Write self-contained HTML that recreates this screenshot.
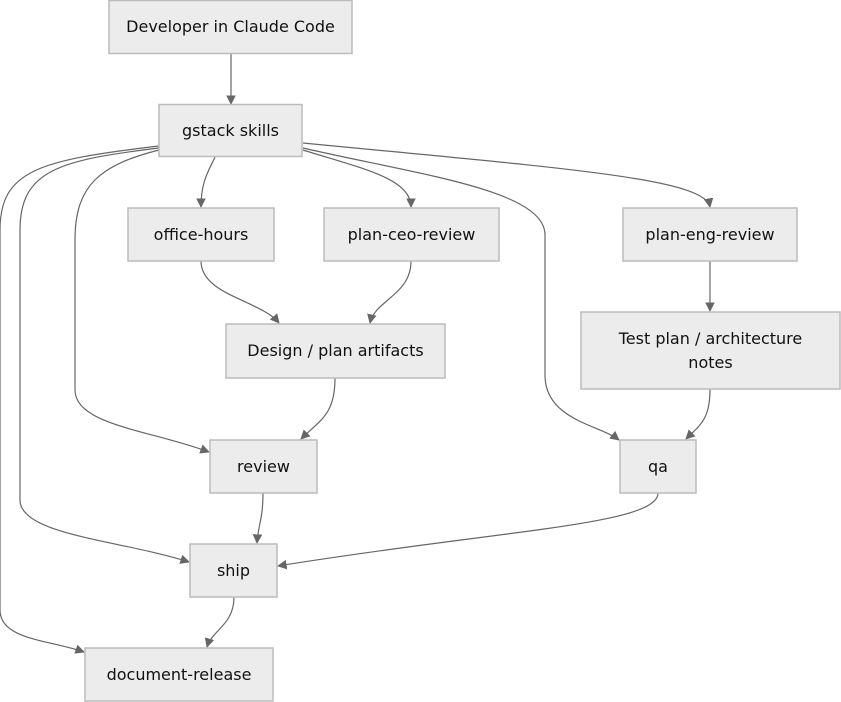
<!DOCTYPE html>
<html><head><meta charset="utf-8"><style>
html,body{margin:0;padding:0;background:#fff;}
svg{display:block;}
text{font-family:"DejaVu Sans","Liberation Sans",sans-serif;font-size:16px;fill:#111;text-anchor:middle;}
rect{fill:#ececec;stroke:#bcbcbc;stroke-width:1.5;}
path{fill:none;stroke:#666;stroke-width:1.2;}
</style></head><body>
<svg width="841" height="702" viewBox="0 0 841 702">
<defs><marker id="a" viewBox="0 0 10 10" refX="9" refY="5" markerWidth="8" markerHeight="8" orient="auto-start-reverse"><path d="M0,0L10,5L0,10z" style="fill:#666;stroke:none"/></marker></defs>
<g>
<path marker-end="url(#a)" d="M231,53 L231,104"/>
<path marker-end="url(#a)" d="M215,157 C208,172 201,182 201,207"/>
<path marker-end="url(#a)" d="M303,150 C360,168 411,178 411,207"/>
<path marker-end="url(#a)" d="M303,143 C560,168 705,178 710,207"/>
<path marker-end="url(#a)" d="M303,148 C420,175 545,190 545,235 L545,375 C545,420 600,425 619,440"/>
<path marker-end="url(#a)" d="M159,150 C100,165 75,185 75,240 L75,390 C75,425 150,430 209,452"/>
<path marker-end="url(#a)" d="M159,148 C60,160 20,170 20,230 L20,500 C20,535 120,540 189,562"/>
<path marker-end="url(#a)" d="M159,146 C40,160 0,170 0,230 L0,610 C0,640 50,640 84,652"/>
<path marker-end="url(#a)" d="M201,261 C201,295 260,300 279,323"/>
<path marker-end="url(#a)" d="M411,261 C411,295 375,300 370,323"/>
<path marker-end="url(#a)" d="M335,378 C335,415 320,420 301,439"/>
<path marker-end="url(#a)" d="M710,261 L710,311"/>
<path marker-end="url(#a)" d="M710,389 C710,420 700,425 686,439"/>
<path marker-end="url(#a)" d="M263,493 C263,520 258,525 257,543"/>
<path marker-end="url(#a)" d="M658,493 C658,525 500,530 278,566"/>
<path marker-end="url(#a)" d="M234,597 C234,625 212,630 207,647"/>
</g>
<rect x="109" y="0.5" width="243" height="53"/><text x="230.5" y="32">Developer in Claude Code</text>
<rect x="159" y="104.5" width="143" height="52"/><text x="230.5" y="136">gstack skills</text>
<rect x="128" y="208" width="146" height="53"/><text x="201" y="240">office-hours</text>
<rect x="324" y="208" width="175" height="53"/><text x="411.5" y="240">plan-ceo-review</text>
<rect x="623" y="208" width="174" height="53"/><text x="710" y="240">plan-eng-review</text>
<rect x="226" y="324" width="219" height="54"/><text x="335.5" y="356">Design / plan artifacts</text>
<rect x="581" y="312" width="259" height="77"/><text x="710.5" y="344">Test plan / architecture</text><text x="710.5" y="368">notes</text>
<rect x="210" y="440" width="107" height="53"/><text x="263.5" y="472">review</text>
<rect x="620" y="440" width="76" height="53"/><text x="658" y="472">qa</text>
<rect x="190" y="544" width="87" height="53"/><text x="233.5" y="576">ship</text>
<rect x="85" y="648" width="188" height="53"/><text x="179" y="680">document-release</text>
</svg>
</body></html>
